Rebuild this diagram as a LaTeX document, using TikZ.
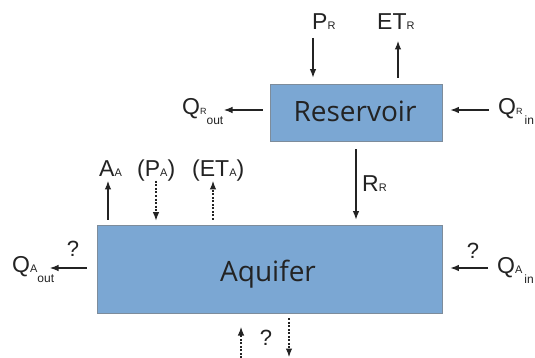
\documentclass[tikz,border=0pt]{standalone}
\usepackage{fontspec}
\setmainfont{Liberation Sans}
\newfontfamily\boxfont{Open Sans}
\usetikzlibrary{arrows.meta}
\definecolor{boxblue}{RGB}{123,167,211}
\definecolor{boxedge}{RGB}{125,140,155}
\definecolor{ink}{RGB}{35,35,35}
\newcommand{\sq}[1]{{\fontsize{11}{11}\selectfont #1}}
\newcommand{\sqs}[1]{{\fontsize{9}{9}\selectfont #1}}
\newcommand{\so}[1]{\raisebox{-10pt}{\fontsize{12}{12}\selectfont #1}}
\tikzset{
  box/.style={draw=boxedge, line width=0.8pt, fill=boxblue, inner sep=0pt},
  boxtext/.style={inner sep=0pt, anchor=base, text=ink, font=\boxfont\fontsize{28}{28}\selectfont},
  lab/.style={inner sep=0pt, anchor=base west, text=ink, font=\fontsize{23}{23}\selectfont},
  qmark/.style={inner sep=0pt, text=ink, font=\fontsize{22}{22}\selectfont},
  flow/.style={draw=ink, line width=1.1pt, -{Latex[length=8.5pt,width=6.5pt]}},
  dflow/.style={flow, dash pattern=on 2pt off 1.5pt}
}
\begin{document}
\begin{tikzpicture}[x=1pt,y=-1pt]
\useasboundingbox[fill=white] (0,0) rectangle (535,358);
% boxes
\node[box, minimum width=172pt, minimum height=57pt] (res) at (356,112.5) {};
\node[boxtext] (restext) at (355,122) {Reservoir};
\node[box, minimum width=345pt, minimum height=88pt] (aq) at (269.5,269) {};
\node[boxtext] (aqtext) at (268,281) {Aquifer};
% labels
\node[lab] (lpr) at (312,30) {P\sq{R}};
\node[lab] (letr) at (377,30) {ET\sq{R}};
\node[lab] (lqro) at (182,115) {Q\sqs{R}\so{out}};
\node[lab] (lqri) at (498,115) {Q\sqs{R}\hspace{2pt}\so{in}};
\node[lab] (lrr) at (362,191) {R\sq{R}};
\node[lab] (laa) at (99,177) {A\sq{A}};
\node[lab] (lpa) at (137,177) {(P\sq{A})};
\node[lab] (leta) at (192,177) {(ET\sq{A})};
\node[lab] (lqao) at (12,272) {Q\sq{A}\so{out}};
\node[lab] (lqai) at (497,273) {Q\sq{A}\hspace{2pt}\so{in}};
\node[qmark] (q1) at (73,249) {?};
\node[qmark] (q2) at (473,251) {?};
\node[qmark] (q3) at (266,338) {?};
% coordinates
\coordinate (pr) at (313,38);
\coordinate (etr) at (398,41);
\coordinate (qro) at (224,110);
\coordinate (qri) at (489,110);
\coordinate (aa) at (108,181);
\coordinate (pa) at (156,181);
\coordinate (eta) at (213,181);
\coordinate (qao) at (50,268);
\coordinate (qai) at (488,268);
\coordinate (bub) at (241,358);
\coordinate (bu) at (241,327);
\coordinate (bd) at (289,357);
% connectors
\draw[flow, shorten >=6pt] (pr) -- (pr |- res.north);
\draw[flow, shorten <=6pt] (etr |- res.north) -- (etr);
\draw[flow, shorten <=7pt] (qro -| res.west) -- (qro);
\draw[flow, shorten >=8pt] (qri) -- (qri -| res.east);
\draw[flow, shorten <=8pt, shorten >=5pt] (res.south) -- (res.south |- aq.north);
\draw[flow, shorten <=5pt] (aa |- aq.north) -- (aa);
\draw[dflow, shorten >=4pt] (pa) -- (pa |- aq.north);
\draw[dflow, shorten <=5pt] (eta |- aq.north) -- (eta);
\draw[flow, shorten <=10pt] (qao -| aq.west) -- (qao);
\draw[flow, shorten >=8pt] (qai) -- (qai -| aq.east);
\draw[dflow] (bub) -- (bu);
\draw[dflow, shorten <=5pt] (bd |- aq.south) -- (bd);
\end{tikzpicture}
\end{document}
